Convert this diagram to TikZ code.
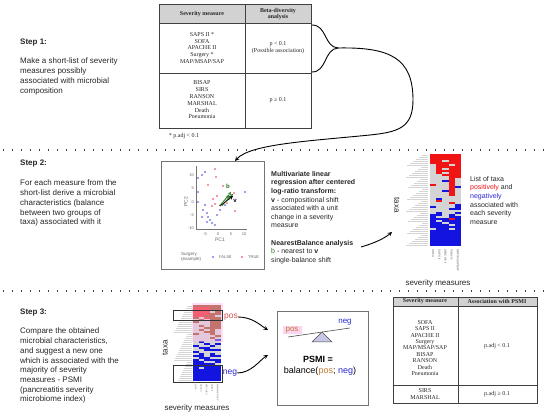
\documentclass[tikz,border=0pt]{standalone}
\usepackage{fontspec}
\setmainfont{Liberation Sans}
\newfontfamily\tabfont{Liberation Serif}
\usepackage{tikz}
\usetikzlibrary{arrows,shapes,positioning}
\usepackage{xcolor}
\definecolor{hmr}{RGB}{240,20,20}
\definecolor{hmb}{RGB}{20,20,225}
\definecolor{hmg}{RGB}{212,212,212}
\definecolor{hmo}{RGB}{150,60,10}
\definecolor{psmipink}{RGB}{250,185,230}
\definecolor{posred}{RGB}{205,80,80}
\definecolor{posbrown}{RGB}{195,120,50}
\definecolor{negblue}{RGB}{40,40,210}
\definecolor{pcagreen}{RGB}{40,120,30}
\definecolor{pcablue}{RGB}{125,125,235}
\definecolor{pcared}{RGB}{240,120,130}
\definecolor{tabgray}{RGB}{210,210,210}
\definecolor{seesaw}{RGB}{200,200,230}
\tikzstyle{arrow} = [line width=0.9pt,->,>=stealth]
\tikzstyle{steptitle} = [anchor=base west, inner sep=0, font=\fontsize{8}{9.7}\selectfont\bfseries, text=black!85]
\tikzstyle{steptext} = [anchor=north west, inner sep=0, align=left, font=\fontsize{8}{9.7}\selectfont, text=black!85]
\tikzstyle{midtext} = [anchor=north west, inner sep=0, align=left, font=\fontsize{7}{8.6}\selectfont, text=black!85]
\tikzstyle{tabtext} = [inner sep=0, align=center, font=\tabfont\fontsize{6}{6.8}\selectfont, text=black!85]
\tikzstyle{tabline} = [draw=black!75, line width=0.6pt]
\tikzstyle{sepline} = [line width=1.3pt, dash pattern=on 1.3pt off 7.7pt, black!75]
\tikzstyle{collabel} = [rotate=-90, anchor=west, inner sep=0, font=\fontsize{3}{3}\selectfont, text=black!60]
\tikzstyle{ticklabel} = [inner sep=0, font=\fontsize{4}{4}\selectfont, text=black!60]
\tikzstyle{axistitle} = [inner sep=0, font=\fontsize{8}{8}\selectfont, text=black!85]

\begin{document}
\begin{tikzpicture}[x=1pt,y=-1pt]
\useasboundingbox (0,0) rectangle (550,417);

% Separators
\draw[sepline] (3,150) -- (550,150);
\draw[sepline] (3,291) -- (550,291);

% Step 1
\node (step1) [steptitle] at (20,45) {Step 1:};
\node (step1text) [steptext] at (20,58) {Make a short-list of severity\\ measures possibly\\ associated with microbial\\ composition};

% Table 1
\fill[tabgray] (159,4) rectangle (311,23);
\draw[tabline] (159,4) rectangle (311,128);
\draw[tabline] (159,23) -- (311,23);
\draw[tabline] (159,73) -- (311,73);
\draw[tabline] (245,4) -- (245,128);
\node (t1h1) [tabtext, font=\tabfont\bfseries\fontsize{6}{6.8}\selectfont] at (202,14) {Severity measure};
\node (t1h2) [tabtext, font=\tabfont\bfseries\fontsize{6}{6.8}\selectfont] at (278,14) {Beta-diversity\\ analysis};
\node (t1a) [tabtext] at (202,48) {SAPS II *\\ SOFA\\ APACHE II\\ Surgery *\\ MAP/MSAP/SAP};
\node (t1b) [tabtext] at (202,100) {BISAP\\ SIRS\\ RANSON\\ MARSHAL\\ Death\\ Pneumonia};
\node (t1pa) [tabtext] at (278,48) {p < 0.1\\ (Possible association)};
\node (t1pb) [tabtext] at (278,100) {p ≥ 0.1};
\node (t1note) [tabtext] at (184,136) {* p.adj < 0.1};

% Brace and arrow to step 2
\coordinate (bracetop) at (312,25);
\coordinate (bracebot) at (312,72);
\coordinate (bracetip) at (338,48);
\coordinate (pcain) at (235,161);
\draw[line width=0.9pt] (bracetop) .. controls (327,25) and (324,47) .. (bracetip) .. controls (324,49) and (327,72) .. (bracebot);
\draw[arrow] (bracetip) .. controls (390,47) and (413,58) .. (413,100) .. controls (413,128) and (398,132) .. (370,135) .. controls (310,141) and (250,144) .. (pcain);

% Step 2
\node (step2) [steptitle] at (20,166) {Step 2:};
\node (step2text) [steptext] at (20,180) {For each measure from the\\ short-list derive a microbial\\ characteristics (balance\\ between two groups of\\ taxa) associated with it};

% PCA plot
\node (pca) [draw=black!55, line width=0.7pt, minimum width=103pt, minimum height=108pt, inner sep=0] at (212.5,215) {};
\draw[black!55, line width=0.4pt] (196,166) -- (196,229) -- (247,229);
\foreach \ty/\tl in {175/10, 188/5, 202/0, 215/-5, 228/-10}
  \node[ticklabel, anchor=east] at (194,\ty) {\tl};
\foreach \tx/\tl in {205/-5, 218/0, 231/5, 244/10}
  \node[ticklabel] at (\tx,234) {\tl};
\node (pc1) [ticklabel, font=\fontsize{5}{5}\selectfont] at (220,240) {PC1};
\node (pc2) [ticklabel, font=\fontsize{5}{5}\selectfont, rotate=90] at (186,202) {PC2};
\foreach \px/\py in {205/172, 202/175, 198/178, 198/192, 198/202, 205/205, 203/210, 207/213, 208/217, 202/217, 210/220, 215/225, 217/215, 220/210, 225/205, 245/192, 207/222, 212/223}
  \fill[pcablue] (\px,\py) circle (1.2pt);
\foreach \px/\py in {215/169, 216/177, 208/185, 223/186, 213/199, 217/196, 215/204, 212/206, 235/211, 227/203, 231/197, 234/193}
  \fill[pcared] (\px,\py) circle (1.2pt);
\foreach \ax/\ay/\bx/\by in {221/205/231/192, 223/204/233/194, 219/206/229/195, 222/206/230/196}
  \draw[pcagreen, line width=0.5pt, ->, >=stealth] (\ax,\ay) -- (\bx,\by);
\draw[black, line width=0.7pt, ->, >=stealth] (220,206) -- (233,196);
\node (lbb) [inner sep=0, text=pcagreen, font=\fontsize{6}{6}\selectfont\bfseries] at (228,186) {b};
\node (lbv) [inner sep=0, font=\fontsize{6}{6}\selectfont\bfseries] at (235,201) {v};
\node (legtitle) [ticklabel, anchor=west, align=left, font=\fontsize{4.5}{5}\selectfont] at (181,257) {Surgery\\ (example)};
\fill[pcablue] (213,257) circle (1.2pt);
\node (legf) [ticklabel, anchor=west] at (219,257) {FALSE};
\fill[pcared] (242,257) circle (1.2pt);
\node (legt) [ticklabel, anchor=west] at (248,257) {TRUE};

% Regression text
\node (regtext) [midtext] at (271,171) {\textbf{Multivariate linear}\\ \textbf{regression after centered}\\ \textbf{log-ratio transform:}\\ \textbf{v} - compositional shift\\ associated with a unit\\ change in a severity\\ measure\\[8.6pt] \textbf{NearestBalance analysis}\\ \textcolor{pcagreen}{b} - nearest to \textbf{v}\\ single-balance shift};
\coordinate (regout) at (361,247);
\coordinate (hm2in) at (392,232);
\draw[arrow] (regout) .. controls (375,243) and (385,238) .. (hm2in);

% Heatmap step 2
\foreach \i in {0,...,45} {
  \pgfmathsetmacro\len{6+mod(\i*37,17)}
  \draw[hmg, line width=0.5pt] ({428-\len},{155+\i*2}) -- (428,{155+\i*2});
}
\foreach \row [count=\i from 0] in {
  {r,r,r,r,r},{r,r,r,r,r},{r,r,r,r,r},{r,r,g,r,r},{r,r,r,r,r},
  {g,r,r,g,r},{g,r,r,r,r},{g,r,g,r,r},{g,r,r,r,r},{g,r,g,r,r},
  {g,g,r,r,r},{g,g,g,r,r},{g,g,g,r,g},{g,g,b,r,g},{g,g,g,r,g},
  {r,g,g,r,g},{g,g,g,r,b},{g,g,g,r,g},{g,g,b,r,g},{g,g,g,r,g},
  {g,g,g,r,g},{g,g,g,g,g},{g,b,g,g,g},{g,r,g,g,g},{g,g,g,r,g},
  {g,g,g,g,b},{b,g,g,g,b},{g,g,g,b,b},{g,g,g,g,g},{g,b,g,g,b},
  {b,b,g,b,g},{b,g,g,b,b},{b,b,b,r,b},{b,g,b,b,b},{b,b,g,b,b},
  {b,b,b,g,b},{b,b,b,b,b},{g,b,b,g,b},{b,b,b,b,b},{b,b,b,b,b},
  {b,b,b,b,b},{b,b,b,b,b},{b,b,b,b,b},{b,b,b,b,b},{b,b,b,b,b},{b,b,b,b,b}} {
  \foreach \c [count=\j from 0] in \row
    \fill[hm\c] ({430+\j*6.2},{154+\i*2}) rectangle ++(6.2,2);
}
\foreach \lab [count=\j from 0] in {SOFA, SAPS II, APACHE II, Surgery, MAP/MSAP/SAP}
  \node[collabel] at ({433.1+\j*6.2},249) {\lab};
\node (taxa2) [axistitle, rotate=-90] at (397,205) {taxa};
\node (sev2) [axistitle] at (438,283) {severity measures};
\node (listtext) [midtext] at (470,176) {List of taxa\\ \textcolor{hmr}{positively} and\\ \textcolor{negblue}{negatively}\\ associated with\\ each severity\\ measure};

% Step 3
\node (step3) [steptitle] at (20,315) {Step 3:};
\node (step3text) [steptext] at (20,328) {Compare the obtained\\ microbial characteristics,\\ and suggest a new one\\ which is associated with the\\ majority of severity\\ measures - PSMI\\ (pancreatitis severity\\ microbiome index)};

% Heatmap step 3
\foreach \i in {0,...,37} {
  \pgfmathsetmacro\len{5+mod(\i*29,14)}
  \draw[hmg, line width=0.5pt] ({192-\len},{306+\i*2}) -- (192,{306+\i*2});
}
\foreach \row [count=\i from 0] in {
  {o,o,o,o,o},{r,r,r,o,o},{r,r,r,o,o},{r,r,r,g,o},{r,r,r,o,o},
  {r,r,o,o,g},{o,g,r,o,o},{g,o,g,o,o},{o,g,g,o,o},{g,g,g,o,o},
  {g,o,g,o,o},{g,g,o,o,o},{g,o,g,o,g},{g,g,o,o,g},{o,g,g,o,g},
  {g,g,g,g,o},{g,g,g,o,g},{g,g,g,g,b},{g,b,g,g,g},{g,g,b,g,b},
  {b,g,g,b,g},{g,b,b,g,g},{g,g,b,b,b},{b,g,g,g,g},{g,b,g,b,g},
  {b,b,g,b,b},{g,b,b,g,g},{b,g,b,b,b},{b,b,g,g,b},{b,b,b,b,g},
  {b,b,b,b,b},{b,g,b,b,b},{b,b,b,b,b},{b,b,b,b,b},{b,b,b,b,b},
  {b,b,b,b,b},{b,b,b,b,b},{b,b,b,b,b}} {
  \foreach \c [count=\j from 0] in \row
    \fill[hm\c] ({193+\j*5.5},{305+\i*2}) rectangle ++(5.5,2);
}
\fill[psmipink, opacity=0.45] (192,303) rectangle (223,342);
\draw[black!80, line width=0.5pt] (173,310) rectangle (222,320);
\draw[black!80, line width=0.5pt] (173,365) rectangle (222,382);
\foreach \lab [count=\j from 0] in {SOFA, SAPS II, APACHE II, Surgery, MAP/MSAP/SAP}
  \node[collabel, font=\fontsize{2.2}{2.2}\selectfont] at ({195.75+\j*5.5},384) {\lab};
\node (taxa3) [axistitle, rotate=90] at (165,348) {taxa};
\node (sev3) [axistitle] at (197,408) {severity measures};
\node (pos) [inner sep=0, text=posred, font=\fontsize{8.5}{8.5}\selectfont] at (231,317) {pos};
\node (neg) [inner sep=0, text=negblue, font=\fontsize{8.5}{8.5}\selectfont] at (230,373) {neg};

% PSMI box
\coordinate (posin) at (268,330);
\coordinate (negin) at (268,355);
\draw[arrow] (pos.east) .. controls +(14,0) and +(-8,-5) .. (posin);
\draw[arrow] (neg.east) .. controls +(14,0) and +(-8,5) .. (negin);
\node (psmi) [draw=black!55, line width=0.7pt, minimum width=91pt, minimum height=94pt, inner sep=0] at (322.5,358) {};
\fill[psmipink!60] (283,326) rectangle (302,334);
\draw[black!70, line width=0.6pt] (288,337) -- (350,328);
\draw[black!70, line width=0.5pt, fill=seesaw] (322,332) -- (312,342) -- (332,342) -- cycle;
\node (pospsmi) [inner sep=0, text=posbrown, font=\fontsize{8}{8}\selectfont] at (292,330) {pos};
\node (negpsmi) [inner sep=0, text=negblue, font=\fontsize{8}{8}\selectfont] at (345,322) {neg};
\node (psmieq) [inner sep=0, font=\fontsize{9}{9}\selectfont\bfseries] at (318,359) {PSMI =};
\node (psmibal) [inner sep=0, font=\fontsize{9}{9}\selectfont] at (320,371) {balance(\textcolor{posbrown}{pos}; \textcolor{negblue}{neg})};

% Table 3
\fill[tabgray] (393,297) rectangle (537,306);
\draw[tabline] (393,297) rectangle (537,403);
\draw[tabline] (393,306) -- (537,306);
\draw[tabline] (393,385) -- (537,385);
\draw[tabline] (458,297) -- (458,403);
\node (t3h1) [tabtext, font=\tabfont\bfseries\fontsize{6}{6.8}\selectfont] at (425,301.5) {Severity measure};
\node (t3h2) [tabtext, font=\tabfont\bfseries\fontsize{6}{6.8}\selectfont] at (497,301.5) {Association with PSMI};
\node (t3a) [tabtext, font=\tabfont\fontsize{6}{6.4}\selectfont] at (425,348) {SOFA\\ SAPS II\\ APACHE II\\ Surgery\\ MAP/MSAP/SAP\\ BISAP\\ RANSON\\ Death\\ Pneumonia};
\node (t3b) [tabtext, font=\tabfont\fontsize{6}{6.4}\selectfont] at (425,394) {SIRS\\ MARSHAL};
\node (t3pa) [tabtext] at (497,346) {p.adj < 0.1};
\node (t3pb) [tabtext] at (497,394) {p.adj ≥ 0.1};
\end{tikzpicture}
\end{document}
